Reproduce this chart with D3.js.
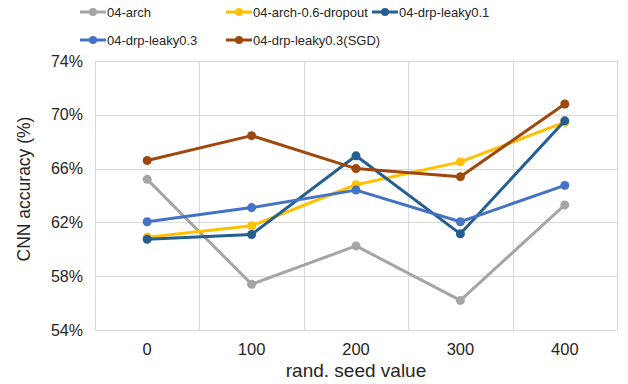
<!DOCTYPE html>
<html>
<head>
<meta charset="utf-8">
<script src="https://cdn.jsdelivr.net/npm/d3@7"></script>
<style>
  body { margin: 0; background: #fff; }
  text { font-family: "Liberation Sans", Arial, sans-serif; fill: #262626; }
</style>
</head>
<body>
<div id="chart"></div>
<script>
// chart data
var seeds = ["0", "100", "200", "300", "400"];
var yTicks = [54, 58, 62, 66, 70, 74];
var seriesNames = ["04-arch", "04-arch-0.6-dropout", "04-drp-leaky0.1", "04-drp-leaky0.3", "04-drp-leaky0.3(SGD)"];
var seriesColors = ["#A5A5A5", "#FFC000", "#255E91", "#4472C4", "#9E480E"];
var arch = [65.2, 57.4, 60.25, 56.2, 63.3];
var archDropout = [60.9, 61.75, 64.8, 66.5, 69.45];
var leaky01 = [60.75, 61.1, 66.95, 61.15, 69.55];
var leaky03 = [62.05, 63.1, 64.4, 62.05, 64.75];
var leaky03sgd = [66.6, 68.45, 66.0, 65.4, 70.8];
var allValues = [arch, archDropout, leaky01, leaky03, leaky03sgd];

var width = 628, height = 384;
var margin = {top: 61, right: 11, bottom: 54, left: 95};

var svg = d3.select("#chart").append("svg")
    .attr("width", width)
    .attr("height", height);

var x = d3.scaleBand()
    .domain(seeds)
    .range([margin.left, width - margin.right]);

var y = d3.scaleLinear()
    .domain([54, 74])
    .range([height - margin.bottom, margin.top]);

// grid
var grid = svg.append("g");
grid.selectAll("line.h")
    .data(yTicks)
    .enter().append("line")
    .attr("x1", margin.left).attr("x2", width - margin.right)
    .attr("y1", function(d){ return Math.round(y(d)) + 0.5; })
    .attr("y2", function(d){ return Math.round(y(d)) + 0.5; })
    .attr("stroke", "#D9D9D9").attr("stroke-width", 1);

var bounds = seeds.map(function(s){ return x(s); }).concat([width - margin.right]);
grid.selectAll("line.v")
    .data(bounds)
    .enter().append("line")
    .attr("y1", margin.top).attr("y2", height - margin.bottom)
    .attr("x1", function(d){ return Math.round(d) + 0.5; })
    .attr("x2", function(d){ return Math.round(d) + 0.5; })
    .attr("stroke", "#D9D9D9").attr("stroke-width", 1);

// y labels
svg.append("g").selectAll("text")
    .data(yTicks)
    .enter().append("text")
    .attr("x", 83)
    .attr("y", function(d){ return y(d); })
    .attr("dy", "0.35em")
    .attr("text-anchor", "end")
    .style("font-size", "16px")
    .text(function(d){ return d + "%"; });

// x labels
svg.append("g").selectAll("text")
    .data(seeds)
    .enter().append("text")
    .attr("x", function(d){ return x(d) + x.bandwidth() / 2; })
    .attr("y", 355)
    .attr("text-anchor", "middle")
    .style("font-size", "16.5px")
    .text(function(d){ return d; });

svg.append("text")
    .attr("x", (margin.left + width - margin.right) / 2)
    .attr("y", 377)
    .attr("text-anchor", "middle")
    .style("font-size", "19px")
    .text("rand. seed value");

svg.append("text")
    .attr("transform", "translate(30,189) rotate(-90)")
    .attr("text-anchor", "middle")
    .style("font-size", "17.5px")
    .text("CNN accuracy (%)");

// lines
var line = d3.line()
    .x(function(d, i){ return x(seeds[i]) + x.bandwidth() / 2; })
    .y(function(d){ return y(d); });

allValues.forEach(function(vals, k){
  var g = svg.append("g");
  g.append("path")
    .datum(vals)
    .attr("d", line)
    .attr("fill", "none")
    .attr("stroke", seriesColors[k])
    .attr("stroke-width", 3)
    .attr("stroke-linejoin", "round");
  g.selectAll("circle")
    .data(vals)
    .enter().append("circle")
    .attr("cx", function(d, i){ return x(seeds[i]) + x.bandwidth() / 2; })
    .attr("cy", function(d){ return y(d); })
    .attr("r", 4.5)
    .attr("fill", seriesColors[k]);
});

// legend
var legendPos = [[80, 12], [226, 12], [372, 12], [80, 40], [226, 40]];
var legend = svg.append("g").selectAll("g")
    .data(seriesNames)
    .enter().append("g")
    .attr("transform", function(d, i){ return "translate(" + legendPos[i][0] + "," + legendPos[i][1] + ")"; });
legend.append("line")
    .attr("x1", 0).attr("x2", 26)
    .attr("stroke", function(d, i){ return seriesColors[i]; })
    .attr("stroke-width", 3);
legend.append("circle")
    .attr("cx", 13).attr("r", 4)
    .attr("fill", function(d, i){ return seriesColors[i]; });
legend.append("text")
    .attr("x", 27)
    .attr("dy", "0.35em")
    .style("font-size", "13px")
    .text(function(d){ return d; });
</script>
</body>
</html>
